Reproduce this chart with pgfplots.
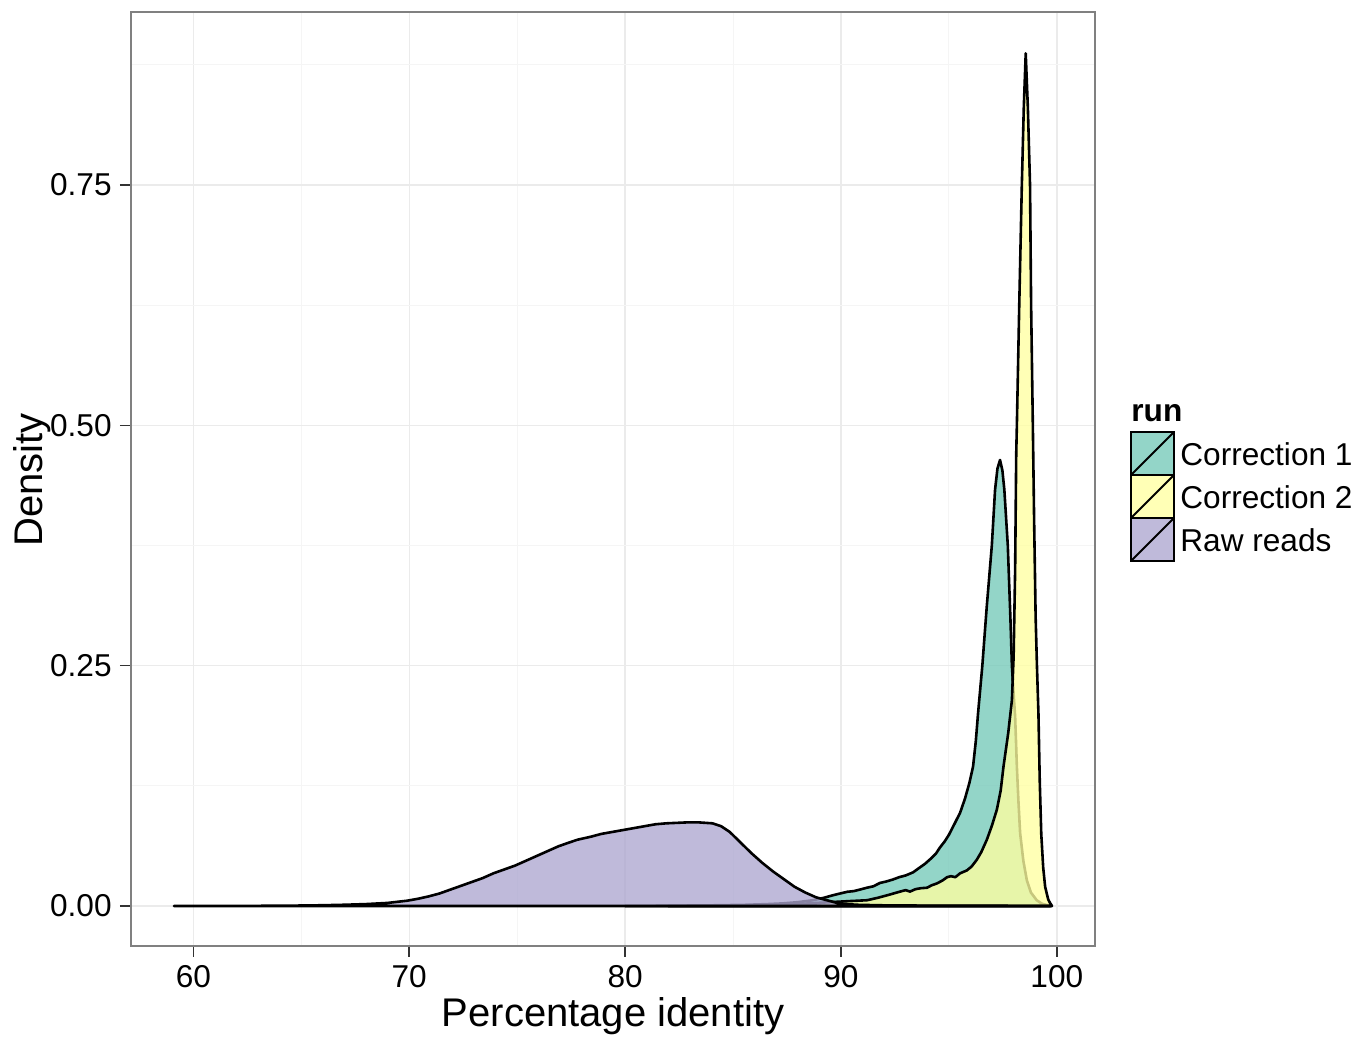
\documentclass[border=0pt]{standalone}
\usepackage{fontspec}
\setmainfont{Liberation Sans}
\usepackage{pgfplots}
\pgfplotsset{compat=1.18}

\definecolor{cone}{RGB}{117,201,185}
\definecolor{ctwo}{RGB}{255,255,161}
\definecolor{craw}{RGB}{173,167,208}
\definecolor{gridmaj}{RGB}{235,235,235}
\definecolor{gridmin}{RGB}{245,245,245}

\begin{document}
\begin{tikzpicture}
\useasboundingbox (0,0) rectangle (683pt,519pt);
\begin{axis}[
    at={(65.5pt,46pt)}, anchor=south west,
    scale only axis, width=482pt, height=467pt,
    xmin=57.11, xmax=101.77, ymin=-0.0416, ymax=0.930,
    xtick={60,70,80,90,100}, xticklabels={60,70,80,90,100},
    minor xtick={65,75,85,95},
    ytick={0,0.25,0.5,0.75}, yticklabels={0.00,0.25,0.50,0.75},
    minor ytick={0.125,0.375,0.625,0.875},
    grid=both,
    major grid style={gridmaj, line width=0.7pt},
    minor grid style={gridmin, line width=0.5pt},
    axis line style={black!50, line width=0.7pt},
    tick pos=left, tick align=outside,
    major tick length=5.5pt, minor tick length=0pt,
    tick style={black!80, line width=0.8pt},
    ticklabel style={font=\fontsize{15.8}{18}\selectfont, inner sep=0pt},
    /pgf/number format/assume math mode=true,
    yticklabel style={xshift=-4pt},
    xticklabel style={yshift=-4pt},
]

% Correction 1
\addplot[fill=cone, fill opacity=0.78, draw=black, line width=1.3pt, line join=round] table {
80.0 0
82.0 0.0003
84.0 0.0007
85.5 0.0012
86.5 0.0019
87.3 0.0027
88.0 0.0040
88.7 0.0060
89.2 0.0085
89.6 0.0110
89.96 0.0130
90.3 0.0148
90.6 0.0155
90.9 0.0172
91.2 0.0190
91.5 0.0205
91.81 0.0240
92.1 0.0255
92.4 0.0275
92.7 0.0300
93.0 0.0318
93.34 0.0350
93.6 0.0392
93.9 0.0440
94.2 0.0500
94.4 0.0545
94.59 0.0610
94.8 0.0670
95.0 0.0740
95.25 0.0850
95.52 0.0970
95.75 0.1120
95.95 0.1280
96.12 0.1450
96.25 0.1720
96.35 0.2000
96.45 0.2250
96.55 0.2500
96.75 0.3100
96.99 0.3750
97.14 0.4330
97.25 0.4550
97.37 0.4640
97.48 0.4530
97.57 0.4330
97.73 0.3750
97.85 0.3000
97.92 0.2500
98.0 0.2200
98.07 0.1970
98.15 0.1450
98.22 0.1100
98.30 0.0760
98.45 0.0470
98.61 0.0270
98.8 0.0140
99.07 0.0060
99.3 0.0025
99.54 0.0010
99.75 0
} \closedcycle;

% Correction 2
\addplot[fill=ctwo, fill opacity=0.78, draw=black, line width=1.3pt, line join=round] table {
82.0 0
84.0 0.0003
86.0 0.0008
88.0 0.0020
89.5 0.0040
90.3 0.0050
91.21 0.0060
91.7 0.0085
92.2 0.0115
92.74 0.0150
93.0 0.0165
93.2 0.0150
93.45 0.0175
93.7 0.0185
93.99 0.0190
94.2 0.0215
94.45 0.0235
94.7 0.0265
94.92 0.0300
95.1 0.0310
95.3 0.0300
95.52 0.0340
95.83 0.0370
96.05 0.0410
96.29 0.0480
96.5 0.0560
96.76 0.0690
97.0 0.0840
97.22 0.1000
97.4 0.1200
97.53 0.1450
97.75 0.1800
97.92 0.2140
98.0 0.2600
98.07 0.3500
98.12 0.4700
98.15 0.5000
98.26 0.6250
98.38 0.7500
98.47 0.8300
98.56 0.8870
98.66 0.8300
98.76 0.7500
98.81 0.6250
98.89 0.5000
98.95 0.4000
99.02 0.3000
99.08 0.2500
99.15 0.2000
99.21 0.1300
99.28 0.0750
99.37 0.0400
99.46 0.0200
99.60 0.0070
99.69 0.0030
99.78 0
} \closedcycle;

% Raw reads
\addplot[fill=craw, fill opacity=0.78, draw=black, line width=1.3pt, line join=round] table {
59.1 0
60 0
62 0.0001
64 0.0003
65 0.0005
66 0.0008
67 0.0013
68 0.0020
69 0.0032
69.9 0.0055
70.4 0.0075
70.9 0.0100
71.4 0.0130
71.9 0.0170
72.4 0.0210
72.9 0.0250
73.4 0.0290
73.9 0.0340
74.4 0.0380
74.9 0.0420
75.4 0.0470
75.9 0.0520
76.4 0.0570
76.9 0.0620
77.4 0.0660
77.8 0.0690
78.4 0.0720
78.9 0.0750
79.4 0.0770
79.9 0.0790
80.4 0.0810
80.9 0.0830
81.4 0.0850
81.9 0.0860
82.4 0.0865
82.9 0.0870
83.4 0.0870
84.05 0.0860
84.45 0.0830
84.85 0.0770
85.35 0.0660
85.85 0.0550
86.35 0.0450
86.85 0.0360
87.35 0.0280
87.85 0.0200
88.35 0.0140
88.85 0.0090
89.35 0.0060
89.85 0.0030
90.35 0.0018
90.85 0.0012
92 0.0007
94 0.0004
96 0.0003
98 0.0002
99.7 0
} \closedcycle;

\end{axis}

\begin{scope}[yshift=519pt, x=0.5pt, y=-0.5pt]
  \node[anchor=base, font=\fontsize{20}{24}\selectfont, inner sep=0pt] at (613,1027) {Percentage identity};
  \node[anchor=base, rotate=90, font=\fontsize{20}{24}\selectfont, inner sep=0pt] at (42.6,480) {Density};
  \node[anchor=base west, font=\fontsize{15.8}{18}\selectfont\bfseries, inner sep=0pt] at (1131,421.5) {run};
  \fill[cone, fill opacity=0.78] (1131,432) rectangle (1174,475);
  \fill[ctwo, fill opacity=0.78] (1131,475) rectangle (1174,518);
  \fill[craw, fill opacity=0.78] (1131,518) rectangle (1174,561);
  \foreach \t in {432,475,518} {
    \draw[black, line width=0.8pt] (1131,\t) rectangle (1174,\t+43);
    \draw[black, line width=0.9pt] (1131,\t+43) -- (1174,\t);
  }
  \node[anchor=base west, font=\fontsize{15.8}{18}\selectfont, inner sep=0pt] at (1180,466) {Correction 1};
  \node[anchor=base west, font=\fontsize{15.8}{18}\selectfont, inner sep=0pt] at (1180,509) {Correction 2};
  \node[anchor=base west, font=\fontsize{15.8}{18}\selectfont, inner sep=0pt] at (1180,552) {Raw reads};
\end{scope}
\end{tikzpicture}
\end{document}
